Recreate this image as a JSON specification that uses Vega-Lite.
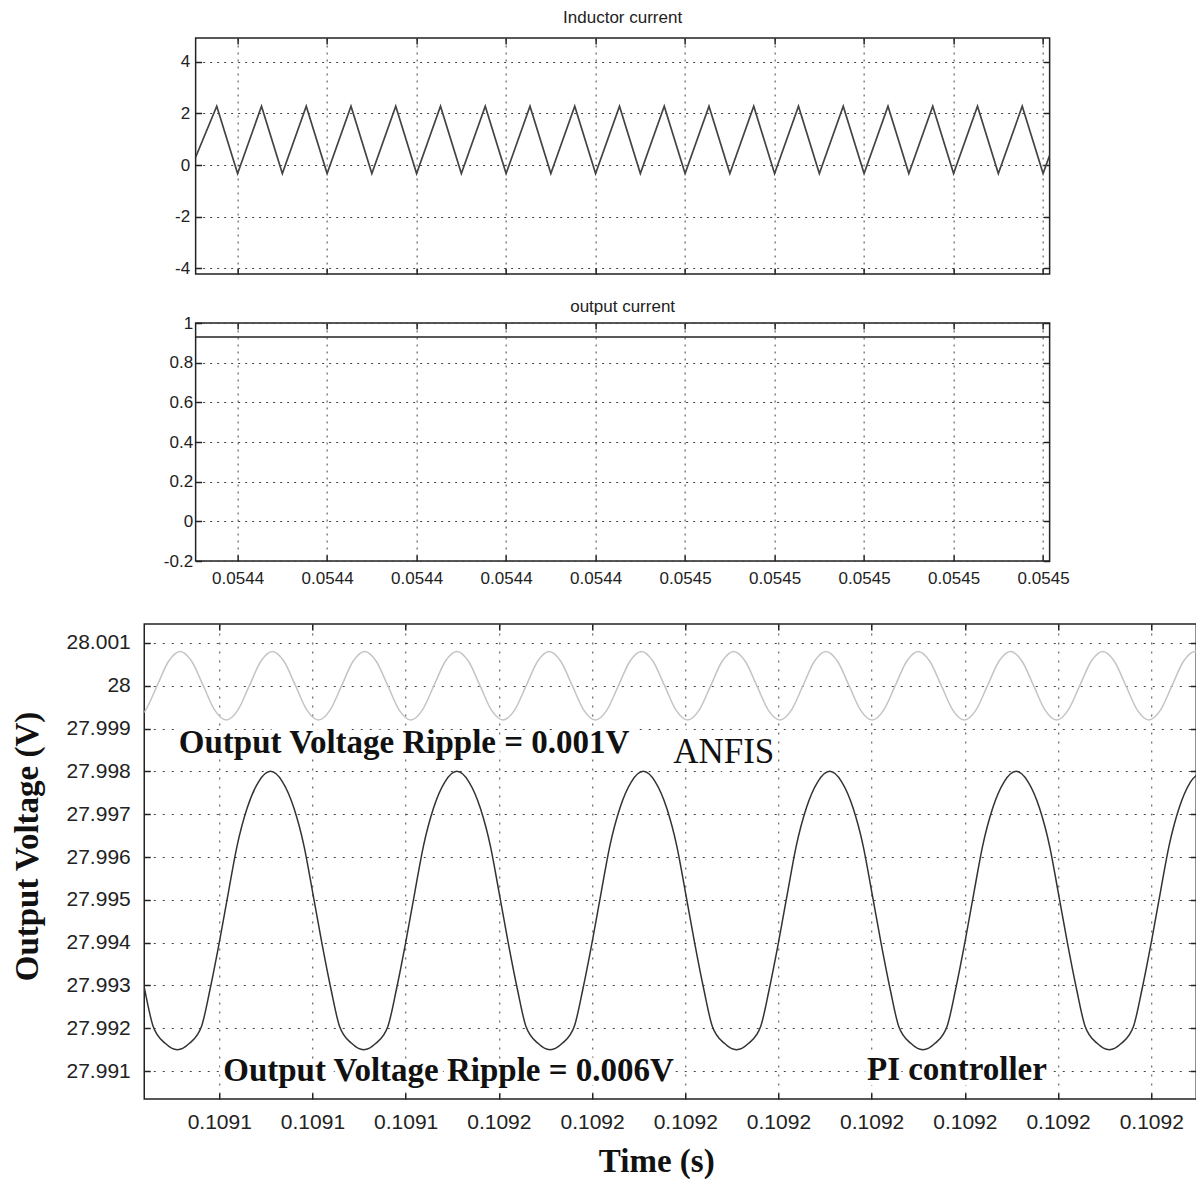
{
  "$schema": "https://vega.github.io/schema/vega-lite/v6.json",
  "padding": {"left": 10, "top": 8, "right": 0, "bottom": 0},
  "background": "white",
  "config": {
    "view": {"stroke": "#222", "strokeWidth": 1.5},
    "axis": {
      "grid": true, "gridColor": "#444", "gridDash": [2, 5], "gridWidth": 1, "gridOpacity": 1,
      "domain": false, "tickColor": "#222", "tickSize": -6, "tickWidth": 1.5,
      "labelFont": "Liberation Sans", "labelColor": "#222"
    },
    "title": {"font": "Liberation Sans", "fontWeight": "normal", "fontSize": 17, "color": "#222", "offset": 10}
  },
  "datasets": {
    "inductor": [
      {"t": 0.05440531, "i": 0.3},
      {"t": 0.05440767, "i": 2.28}, {"t": 0.05441, "i": -0.33},
      {"t": 0.05441267, "i": 2.28}, {"t": 0.054415, "i": -0.33},
      {"t": 0.05441767, "i": 2.28}, {"t": 0.05442, "i": -0.33},
      {"t": 0.05442267, "i": 2.28}, {"t": 0.054425, "i": -0.33},
      {"t": 0.05442767, "i": 2.28}, {"t": 0.05443, "i": -0.33},
      {"t": 0.05443267, "i": 2.28}, {"t": 0.054435, "i": -0.33},
      {"t": 0.05443767, "i": 2.28}, {"t": 0.05444, "i": -0.33},
      {"t": 0.05444267, "i": 2.28}, {"t": 0.054445, "i": -0.33},
      {"t": 0.05444767, "i": 2.28}, {"t": 0.05445, "i": -0.33},
      {"t": 0.05445267, "i": 2.28}, {"t": 0.054455, "i": -0.33},
      {"t": 0.05445767, "i": 2.28}, {"t": 0.05446, "i": -0.33},
      {"t": 0.05446267, "i": 2.28}, {"t": 0.054465, "i": -0.33},
      {"t": 0.05446767, "i": 2.28}, {"t": 0.05447, "i": -0.33},
      {"t": 0.05447267, "i": 2.28}, {"t": 0.054475, "i": -0.33},
      {"t": 0.05447767, "i": 2.28}, {"t": 0.05448, "i": -0.33},
      {"t": 0.05448267, "i": 2.28}, {"t": 0.054485, "i": -0.33},
      {"t": 0.05448767, "i": 2.28}, {"t": 0.05449, "i": -0.33},
      {"t": 0.05449267, "i": 2.28}, {"t": 0.054495, "i": -0.33},
      {"t": 0.05449767, "i": 2.28}, {"t": 0.0545, "i": -0.33},
      {"t": 0.05450073, "i": 0.38}
    ],
    "output": [
      {"t": 0.05440531, "i": 0.93},
      {"t": 0.05450073, "i": 0.93}
    ],
    "pi": [
      {"t": 0.109111, "v": 27.994}, {"t": 0.109112, "v": 27.9929}, {"t": 0.1091129, "v": 27.99205}, {"t": 0.1091142, "v": 27.99165}, {"t": 0.1091155, "v": 27.9915},
      {"t": 0.1091168, "v": 27.99165}, {"t": 0.1091181, "v": 27.99205}, {"t": 0.109119, "v": 27.9929}, {"t": 0.10912, "v": 27.994}, {"t": 0.109121, "v": 27.9952}, {"t": 0.1091219, "v": 27.99625}, {"t": 0.109123, "v": 27.99715}, {"t": 0.1091242, "v": 27.99775}, {"t": 0.1091255, "v": 27.998},
      {"t": 0.1091268, "v": 27.99775}, {"t": 0.109128, "v": 27.99715}, {"t": 0.1091291, "v": 27.99625}, {"t": 0.10913, "v": 27.9952}, {"t": 0.109131, "v": 27.994}, {"t": 0.109132, "v": 27.9929}, {"t": 0.1091329, "v": 27.99205}, {"t": 0.1091342, "v": 27.99165}, {"t": 0.1091355, "v": 27.9915},
      {"t": 0.1091368, "v": 27.99165}, {"t": 0.1091381, "v": 27.99205}, {"t": 0.109139, "v": 27.9929}, {"t": 0.10914, "v": 27.994}, {"t": 0.109141, "v": 27.9952}, {"t": 0.1091419, "v": 27.99625}, {"t": 0.109143, "v": 27.99715}, {"t": 0.1091442, "v": 27.99775}, {"t": 0.1091455, "v": 27.998},
      {"t": 0.1091468, "v": 27.99775}, {"t": 0.109148, "v": 27.99715}, {"t": 0.1091491, "v": 27.99625}, {"t": 0.10915, "v": 27.9952}, {"t": 0.109151, "v": 27.994}, {"t": 0.109152, "v": 27.9929}, {"t": 0.1091529, "v": 27.99205}, {"t": 0.1091542, "v": 27.99165}, {"t": 0.1091555, "v": 27.9915},
      {"t": 0.1091568, "v": 27.99165}, {"t": 0.1091581, "v": 27.99205}, {"t": 0.109159, "v": 27.9929}, {"t": 0.10916, "v": 27.994}, {"t": 0.109161, "v": 27.9952}, {"t": 0.1091619, "v": 27.99625}, {"t": 0.109163, "v": 27.99715}, {"t": 0.1091642, "v": 27.99775}, {"t": 0.1091655, "v": 27.998},
      {"t": 0.1091668, "v": 27.99775}, {"t": 0.109168, "v": 27.99715}, {"t": 0.1091691, "v": 27.99625}, {"t": 0.10917, "v": 27.9952}, {"t": 0.109171, "v": 27.994}, {"t": 0.109172, "v": 27.9929}, {"t": 0.1091729, "v": 27.99205}, {"t": 0.1091742, "v": 27.99165}, {"t": 0.1091755, "v": 27.9915},
      {"t": 0.1091768, "v": 27.99165}, {"t": 0.1091781, "v": 27.99205}, {"t": 0.109179, "v": 27.9929}, {"t": 0.10918, "v": 27.994}, {"t": 0.109181, "v": 27.9952}, {"t": 0.1091819, "v": 27.99625}, {"t": 0.109183, "v": 27.99715}, {"t": 0.1091842, "v": 27.99775}, {"t": 0.1091855, "v": 27.998},
      {"t": 0.1091868, "v": 27.99775}, {"t": 0.109188, "v": 27.99715}, {"t": 0.1091891, "v": 27.99625}, {"t": 0.10919, "v": 27.9952}, {"t": 0.109191, "v": 27.994}, {"t": 0.109192, "v": 27.9929}, {"t": 0.1091929, "v": 27.99205}, {"t": 0.1091942, "v": 27.99165}, {"t": 0.1091955, "v": 27.9915},
      {"t": 0.1091968, "v": 27.99165}, {"t": 0.1091981, "v": 27.99205}, {"t": 0.109199, "v": 27.9929}, {"t": 0.1092, "v": 27.994}, {"t": 0.109201, "v": 27.9952}, {"t": 0.1092019, "v": 27.99625}, {"t": 0.109203, "v": 27.99715}, {"t": 0.1092042, "v": 27.99775}, {"t": 0.1092055, "v": 27.998},
      {"t": 0.1092068, "v": 27.99775}, {"t": 0.109208, "v": 27.99715}, {"t": 0.1092091, "v": 27.99625}, {"t": 0.10921, "v": 27.9952}, {"t": 0.109211, "v": 27.994}, {"t": 0.109212, "v": 27.9929}, {"t": 0.1092129, "v": 27.99205}, {"t": 0.1092142, "v": 27.99165}, {"t": 0.1092155, "v": 27.9915},
      {"t": 0.1092168, "v": 27.99165}, {"t": 0.1092181, "v": 27.99205}, {"t": 0.109219, "v": 27.9929}, {"t": 0.10922, "v": 27.994}, {"t": 0.109221, "v": 27.9952}, {"t": 0.1092219, "v": 27.99625}, {"t": 0.109223, "v": 27.99715}, {"t": 0.1092242, "v": 27.99775}, {"t": 0.1092255, "v": 27.998}
    ],
    "anfis": [
      {"t": 0.10911085, "v": 27.9992}, {"t": 0.10911209, "v": 27.99943}, {"t": 0.10911333, "v": 28.0}, {"t": 0.10911456, "v": 28.00057}, {"t": 0.1091158, "v": 28.0008}, {"t": 0.10911704, "v": 28.00057}, {"t": 0.10911828, "v": 28.0}, {"t": 0.10911951, "v": 27.99943},
      {"t": 0.10912075, "v": 27.9992}, {"t": 0.10912199, "v": 27.99943}, {"t": 0.10912323, "v": 28.0}, {"t": 0.10912446, "v": 28.00057}, {"t": 0.1091257, "v": 28.0008}, {"t": 0.10912694, "v": 28.00057}, {"t": 0.10912818, "v": 28.0}, {"t": 0.10912941, "v": 27.99943},
      {"t": 0.10913065, "v": 27.9992}, {"t": 0.10913189, "v": 27.99943}, {"t": 0.10913313, "v": 28.0}, {"t": 0.10913436, "v": 28.00057}, {"t": 0.1091356, "v": 28.0008}, {"t": 0.10913684, "v": 28.00057}, {"t": 0.10913808, "v": 28.0}, {"t": 0.10913931, "v": 27.99943},
      {"t": 0.10914055, "v": 27.9992}, {"t": 0.10914179, "v": 27.99943}, {"t": 0.10914303, "v": 28.0}, {"t": 0.10914426, "v": 28.00057}, {"t": 0.1091455, "v": 28.0008}, {"t": 0.10914674, "v": 28.00057}, {"t": 0.10914798, "v": 28.0}, {"t": 0.10914921, "v": 27.99943},
      {"t": 0.10915045, "v": 27.9992}, {"t": 0.10915169, "v": 27.99943}, {"t": 0.10915293, "v": 28.0}, {"t": 0.10915416, "v": 28.00057}, {"t": 0.1091554, "v": 28.0008}, {"t": 0.10915664, "v": 28.00057}, {"t": 0.10915788, "v": 28.0}, {"t": 0.10915911, "v": 27.99943},
      {"t": 0.10916035, "v": 27.9992}, {"t": 0.10916159, "v": 27.99943}, {"t": 0.10916283, "v": 28.0}, {"t": 0.10916406, "v": 28.00057}, {"t": 0.1091653, "v": 28.0008}, {"t": 0.10916654, "v": 28.00057}, {"t": 0.10916778, "v": 28.0}, {"t": 0.10916901, "v": 27.99943},
      {"t": 0.10917025, "v": 27.9992}, {"t": 0.10917149, "v": 27.99943}, {"t": 0.10917273, "v": 28.0}, {"t": 0.10917396, "v": 28.00057}, {"t": 0.1091752, "v": 28.0008}, {"t": 0.10917644, "v": 28.00057}, {"t": 0.10917768, "v": 28.0}, {"t": 0.10917891, "v": 27.99943},
      {"t": 0.10918015, "v": 27.9992}, {"t": 0.10918139, "v": 27.99943}, {"t": 0.10918263, "v": 28.0}, {"t": 0.10918386, "v": 28.00057}, {"t": 0.1091851, "v": 28.0008}, {"t": 0.10918634, "v": 28.00057}, {"t": 0.10918758, "v": 28.0}, {"t": 0.10918881, "v": 27.99943},
      {"t": 0.10919005, "v": 27.9992}, {"t": 0.10919129, "v": 27.99943}, {"t": 0.10919253, "v": 28.0}, {"t": 0.10919376, "v": 28.00057}, {"t": 0.109195, "v": 28.0008}, {"t": 0.10919624, "v": 28.00057}, {"t": 0.10919748, "v": 28.0}, {"t": 0.10919871, "v": 27.99943},
      {"t": 0.10919995, "v": 27.9992}, {"t": 0.10920119, "v": 27.99943}, {"t": 0.10920243, "v": 28.0}, {"t": 0.10920366, "v": 28.00057}, {"t": 0.1092049, "v": 28.0008}, {"t": 0.10920614, "v": 28.00057}, {"t": 0.10920738, "v": 28.0}, {"t": 0.10920861, "v": 27.99943},
      {"t": 0.10920985, "v": 27.9992}, {"t": 0.10921109, "v": 27.99943}, {"t": 0.10921233, "v": 28.0}, {"t": 0.10921356, "v": 28.00057}, {"t": 0.1092148, "v": 28.0008}, {"t": 0.10921604, "v": 28.00057}, {"t": 0.10921728, "v": 28.0}, {"t": 0.10921851, "v": 27.99943},
      {"t": 0.10921975, "v": 27.9992}, {"t": 0.10922099, "v": 27.99943}, {"t": 0.10922223, "v": 28.0}, {"t": 0.10922346, "v": 28.00057}, {"t": 0.1092247, "v": 28.0008}, {"t": 0.10922594, "v": 28.00057}
    ],
    "notesBold": [
      {"label": "Output Voltage Ripple = 0.001V", "t": 0.10913983, "v": 27.99843},
      {"label": "Output Voltage Ripple = 0.006V", "t": 0.1091446, "v": 27.99077},
      {"label": "PI controller", "t": 0.10919915, "v": 27.99079}
    ],
    "notesRegular": [
      {"label": "ANFIS", "t": 0.10917413, "v": 27.9982}
    ]
  },
  "center": true,
  "spacing": 35,
  "vconcat": [
    {
      "spacing": 20,
      "vconcat": [
        {
          "title": {"text": "Inductor current"},
          "width": 854, "height": 236,
          "data": {"name": "inductor"},
          "resolve": {"axis": {"x": "independent", "y": "independent"}},
          "layer": [
            {
              "mark": {"type": "line", "color": "#444", "strokeWidth": 1.7, "clip": true},
              "encoding": {
                "x": {"field": "t", "type": "quantitative",
                  "scale": {"domain": [0.05440531, 0.05450073], "nice": false, "zero": false},
                  "axis": {"values": [0.05441, 0.05442, 0.05443, 0.05444, 0.05445, 0.05446, 0.05447, 0.05448, 0.05449, 0.0545], "labels": false, "title": null}},
                "y": {"field": "i", "type": "quantitative",
                  "scale": {"domain": [-4.23, 4.93], "nice": false, "zero": false},
                  "axis": {"values": [-4, -2, 0, 2, 4], "title": null, "labelFontSize": 17, "minExtent": 58, "maxExtent": 58, "labelPadding": 12, "labelExpr": "'' + datum.value"}}
              }
            },
            {
              "mark": {"type": "line", "strokeOpacity": 0},
              "encoding": {
                "x": {"field": "t", "type": "quantitative",
                  "axis": {"orient": "top", "values": [0.05441, 0.05442, 0.05443, 0.05444, 0.05445, 0.05446, 0.05447, 0.05448, 0.05449, 0.0545], "labels": false, "grid": false, "title": null}},
                "y": {"field": "i", "type": "quantitative",
                  "axis": {"orient": "right", "values": [-4, -2, 0, 2, 4], "labels": false, "grid": false, "title": null, "minExtent": 96, "maxExtent": 96}}
              }
            }
          ]
        },
        {
          "title": {"text": "output current", "offset": -2},
          "width": 854, "height": 238,
          "data": {"name": "output"},
          "resolve": {"axis": {"x": "independent", "y": "independent"}},
          "layer": [
            {
              "mark": {"type": "line", "color": "#222", "strokeWidth": 1.5, "clip": true},
              "encoding": {
                "x": {"field": "t", "type": "quantitative",
                  "scale": {"domain": [0.05440531, 0.05450073], "nice": false, "zero": false},
                  "axis": {"values": [0.05441, 0.05442, 0.05443, 0.05444, 0.05445, 0.05446, 0.05447, 0.05448, 0.05449, 0.0545], "labelExpr": "datum.value < 0.054455 ? '0.0544' : '0.0545'", "labelFontSize": 17, "labelPadding": 15, "title": null}},
                "y": {"field": "i", "type": "quantitative",
                  "scale": {"domain": [-0.2, 1], "nice": false, "zero": false},
                  "axis": {"values": [-0.2, 0, 0.2, 0.4, 0.6, 0.8, 1], "title": null, "labelFontSize": 17, "minExtent": 58, "maxExtent": 58, "labelPadding": 9, "labelExpr": "'' + datum.value"}}
              }
            },
            {
              "mark": {"type": "line", "strokeOpacity": 0},
              "encoding": {
                "x": {"field": "t", "type": "quantitative",
                  "axis": {"orient": "top", "values": [0.05441, 0.05442, 0.05443, 0.05444, 0.05445, 0.05446, 0.05447, 0.05448, 0.05449, 0.0545], "labels": false, "grid": false, "title": null}},
                "y": {"field": "i", "type": "quantitative",
                  "axis": {"orient": "right", "values": [-0.2, 0, 0.2, 0.4, 0.6, 0.8, 1], "labels": false, "grid": false, "title": null, "minExtent": 96, "maxExtent": 96}}
              }
            }
          ]
        }
      ]
    },
    {
      "width": 1052, "height": 475,
      "resolve": {"axis": {"x": "independent", "y": "independent"}},
      "layer": [
        {
          "data": {"name": "anfis"},
          "mark": {"type": "line", "color": "#c4c4c4", "strokeWidth": 1.5, "interpolate": "monotone", "clip": true},
          "encoding": {
            "x": {"field": "t", "type": "quantitative",
              "scale": {"domain": [0.10911195, 0.10922483], "nice": false, "zero": false},
              "axis": {"values": [0.10912, 0.10913, 0.10914, 0.10915, 0.10916, 0.10917, 0.10918, 0.10919, 0.1092, 0.10921, 0.10922],
                "labelExpr": "datum.value < 0.109145 ? '0.1091' : '0.1092'", "labelFontSize": 21, "labelPadding": 18,
                "title": "Time (s)", "titleFont": "Liberation Serif", "titleFontWeight": "bold", "titleFontSize": 33, "titleColor": "#111", "titlePadding": 13, "titleX": 512, "gridDash": [2, 7]}},
            "y": {"field": "v", "type": "quantitative",
              "scale": {"domain": [27.99035, 28.00144], "nice": false, "zero": false},
              "axis": {"values": [27.991, 27.992, 27.993, 27.994, 27.995, 27.996, 27.997, 27.998, 27.999, 28, 28.001],
                "labelExpr": "'' + round(datum.value * 1000) / 1000", "labelFontSize": 21, "labelPadding": 20,
                "minExtent": 80, "maxExtent": 80,
                "title": "Output Voltage (V)", "titleFont": "Liberation Serif", "titleFontWeight": "bold", "titleFontSize": 33, "titleColor": "#111", "titlePadding": 20, "titleY": 222, "gridDash": [2, 7]}}
          }
        },
        {
          "data": {"name": "notesBold"},
          "mark": {"type": "text", "font": "Liberation Serif", "fontWeight": "bold", "fontSize": 33, "align": "center", "baseline": "alphabetic", "fill": "white", "stroke": "white", "strokeWidth": 10},
          "encoding": {
            "x": {"field": "t", "type": "quantitative", "axis": null},
            "y": {"field": "v", "type": "quantitative", "axis": null},
            "text": {"field": "label"}
          }
        },
        {
          "data": {"name": "notesRegular"},
          "mark": {"type": "text", "font": "Liberation Serif", "fontWeight": "normal", "fontSize": 35, "align": "center", "baseline": "alphabetic", "fill": "white", "stroke": "white", "strokeWidth": 10},
          "encoding": {
            "x": {"field": "t", "type": "quantitative", "axis": null},
            "y": {"field": "v", "type": "quantitative", "axis": null},
            "text": {"field": "label"}
          }
        },
        {
          "data": {"name": "pi"},
          "mark": {"type": "line", "color": "#333", "strokeWidth": 1.5, "interpolate": "monotone", "clip": true},
          "encoding": {
            "x": {"field": "t", "type": "quantitative",
              "axis": {"orient": "top", "values": [0.10912, 0.10913, 0.10914, 0.10915, 0.10916, 0.10917, 0.10918, 0.10919, 0.1092, 0.10921, 0.10922], "labels": false, "grid": false, "title": null}},
            "y": {"field": "v", "type": "quantitative",
              "axis": {"orient": "right", "values": [27.991, 27.992, 27.993, 27.994, 27.995, 27.996, 27.997, 27.998, 27.999, 28, 28.001], "labels": false, "grid": false, "title": null}}
          }
        },
        {
          "data": {"name": "notesBold"},
          "mark": {"type": "text", "font": "Liberation Serif", "fontWeight": "bold", "fontSize": 33, "align": "center", "baseline": "alphabetic", "color": "#111"},
          "encoding": {
            "x": {"field": "t", "type": "quantitative", "axis": null},
            "y": {"field": "v", "type": "quantitative", "axis": null},
            "text": {"field": "label"}
          }
        },
        {
          "data": {"name": "notesRegular"},
          "mark": {"type": "text", "font": "Liberation Serif", "fontWeight": "normal", "fontSize": 35, "align": "center", "baseline": "alphabetic", "color": "#111"},
          "encoding": {
            "x": {"field": "t", "type": "quantitative", "axis": null},
            "y": {"field": "v", "type": "quantitative", "axis": null},
            "text": {"field": "label"}
          }
        }
      ]
    }
  ]
}
